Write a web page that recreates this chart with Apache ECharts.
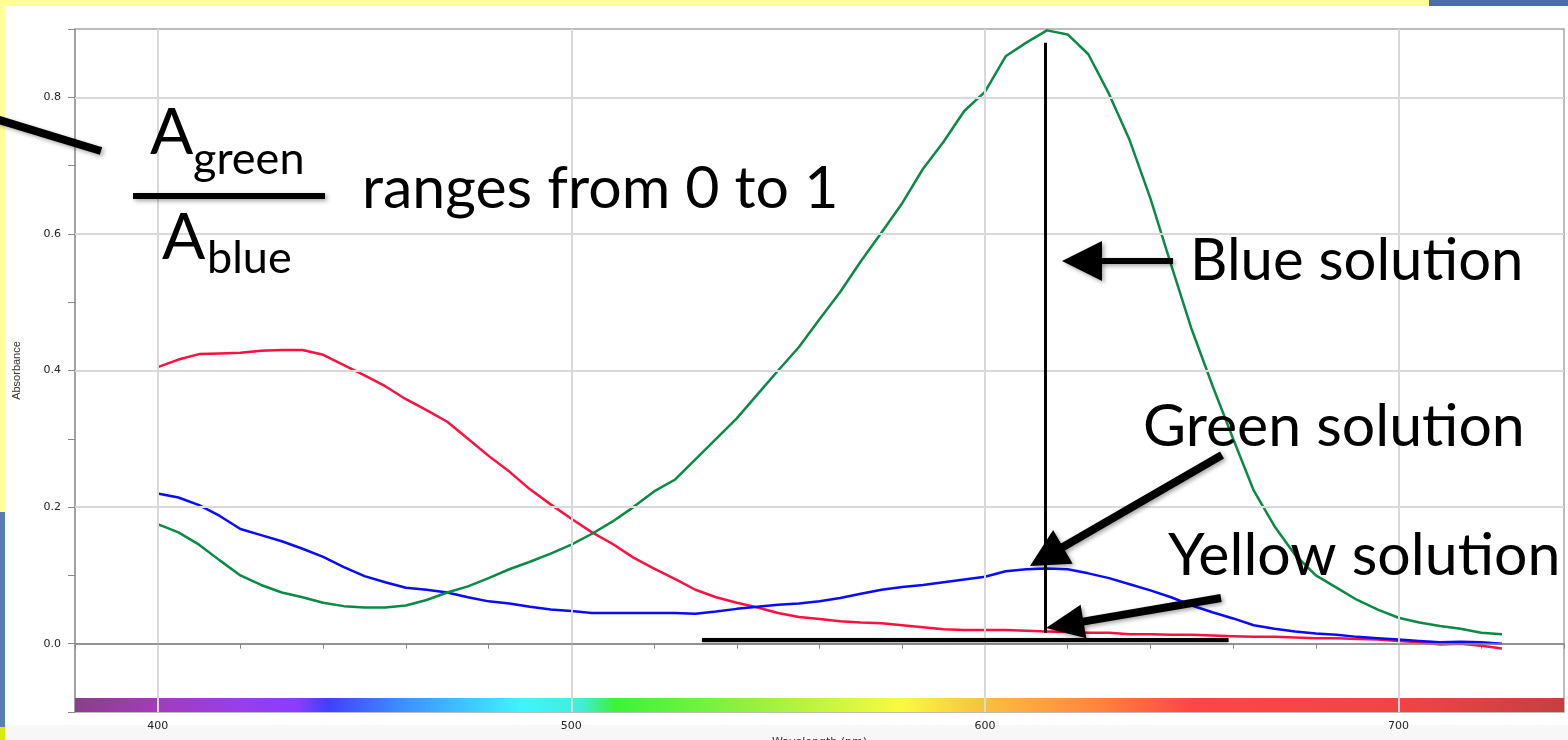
<!DOCTYPE html>
<html>
<head>
<meta charset="utf-8">
<script src="https://cdn.jsdelivr.net/npm/echarts@6/dist/echarts.min.js"></script>
<style>
html,body{margin:0;padding:0;background:#fff;}
#chart{width:1568px;height:740px;}
</style>
</head>
<body>
<div id="chart"></div>
<script>
// ---- data ----
const wavelengths = [400,405,410,415,420,425,430,435,440,445,450,455,460,465,470,475,480,485,490,495,
  500,505,510,515,520,525,530,535,540,545,550,555,560,565,570,575,580,585,590,595,
  600,605,610,615,620,625,630,635,640,645,650,655,660,665,670,675,680,685,690,695,
  700,705,710,715,720,725];
const yellowSolution = [0.405,0.416,0.424,0.425,0.426,0.429,0.430,0.430,0.423,0.408,0.393,0.377,0.358,0.342,0.325,0.300,0.275,0.252,0.226,0.204,
  0.183,0.163,0.146,0.126,0.110,0.095,0.079,0.068,0.060,0.053,0.045,0.039,0.036,0.033,0.031,0.030,0.027,0.024,0.021,0.020,
  0.020,0.020,0.019,0.018,0.017,0.016,0.016,0.014,0.014,0.013,0.013,0.012,0.011,0.010,0.010,0.009,0.008,0.008,0.007,0.006,
  0.004,0.002,-0.001,0.000,-0.003,-0.007];
const greenSolution = [0.220,0.214,0.203,0.187,0.168,0.159,0.150,0.139,0.127,0.112,0.099,0.090,0.082,0.079,0.075,0.068,0.062,0.059,0.054,0.050,
  0.048,0.045,0.045,0.045,0.045,0.045,0.044,0.047,0.051,0.054,0.057,0.059,0.062,0.067,0.073,0.079,0.083,0.086,0.090,0.094,
  0.098,0.106,0.109,0.110,0.109,0.103,0.096,0.087,0.078,0.068,0.056,0.046,0.037,0.027,0.022,0.018,0.015,0.013,0.010,0.008,
  0.006,0.004,0.002,0.003,0.002,0.000];
const blueSolution = [0.175,0.163,0.145,0.122,0.100,0.086,0.075,0.068,0.060,0.055,0.053,0.053,0.056,0.064,0.075,0.084,0.096,0.109,0.120,0.132,
  0.145,0.161,0.179,0.200,0.223,0.240,0.270,0.300,0.330,0.365,0.400,0.434,0.475,0.515,0.560,0.602,0.645,0.695,0.735,0.780,
  0.808,0.860,0.880,0.898,0.892,0.863,0.805,0.737,0.652,0.555,0.460,0.378,0.300,0.224,0.172,0.130,0.100,0.082,0.064,0.050,
  0.038,0.031,0.026,0.022,0.016,0.014];
const xGridValues = [400,500,600,700];
const yGridValues = [0.2,0.4,0.6,0.8];
const xTitle = 'Wavelength (nm)';
const yTitle = 'Absorbance';
// annotation anchors in data units
const markWavelength = 614.6;
const markTop = 0.88, markBottom = 0.016;
const baseLine = {from:531.6, to:658.9, value:0.0064};

const chart = echarts.init(document.getElementById('chart'));

const pair = arr => wavelengths.map((w,i)=>[w,arr[i]]);

const spectrum = new echarts.graphic.LinearGradient(0,0,1,0,[
  {offset:0.00,color:'#8a3f8a'},{offset:0.055,color:'#a23db8'},{offset:0.11,color:'#993ee8'},
  {offset:0.15,color:'#8a3cff'},{offset:0.17,color:'#4040ff'},{offset:0.22,color:'#3f8fff'},
  {offset:0.30,color:'#3ff4ff'},{offset:0.34,color:'#40eed8'},{offset:0.362,color:'#3cf23c'},
  {offset:0.45,color:'#90f040'},{offset:0.555,color:'#fafa40'},{offset:0.61,color:'#f8c040'},
  {offset:0.68,color:'#ff8a40'},{offset:0.75,color:'#ff4545'},{offset:0.89,color:'#f24444'},
  {offset:1.00,color:'#c44040'}
]);

const shadow = {shadowColor:'rgba(0,0,0,0.35)',shadowBlur:4,shadowOffsetX:2,shadowOffsetY:2};

function arrow(tail, tip, headLen, headW, width){
  const dx = tip[0]-tail[0], dy = tip[1]-tail[1];
  const L = Math.sqrt(dx*dx+dy*dy), ux = dx/L, uy = dy/L;
  const bx = tip[0]-ux*headLen, by = tip[1]-uy*headLen;
  const px = -uy, py = ux;
  return [
    {type:'line',z:100,shape:{x1:tail[0],y1:tail[1],x2:bx+ux*2,y2:by+uy*2},style:Object.assign({stroke:'#000',lineWidth:width},shadow)},
    {type:'polygon',z:100,shape:{points:[[tip[0],tip[1]],[bx+px*headW/2,by+py*headW/2],[bx-px*headW/2,by-py*headW/2]]},style:Object.assign({fill:'#000'},shadow)}
  ];
}

function txt(text, x, y, size){
  return {type:'text',z:100,style:{text:text,x:x,y:y,font:size+'px Lato',fill:'#000',textAlign:'left',textVerticalAlign:'middle',verticalAlign:'middle'}};
}

const graphics = [
  {type:'rect',z:-100,shape:{x:0,y:0,width:1429,height:6},style:{fill:'#ffff99'}},
  {type:'rect',z:-100,shape:{x:1429,y:0,width:139,height:6},style:{fill:'#4b6ea8'}},
  {type:'rect',z:-100,shape:{x:0,y:0,width:5,height:512},style:{fill:'#ffff99'}},
  {type:'rect',z:-100,shape:{x:0,y:512,width:5,height:215},style:{fill:'#5a7db8'}},
  {type:'rect',z:-100,shape:{x:5,y:725,width:1563,height:15},style:{fill:'#f7f7f7'}},
  {type:'rect',z:-100,shape:{x:0,y:727,width:5,height:13},style:{fill:'#d4f000'}},
  // left diagonal stroke
  {type:'line',z:100,shape:{x1:-4,y1:119,x2:101,y2:151},style:Object.assign({stroke:'#000',lineWidth:8},shadow)},
  // fraction
  txt('A',150,133,64),
  txt('green',193,159,45),
  {type:'rect',z:100,shape:{x:133,y:193,width:192,height:6},style:Object.assign({fill:'#000'},shadow)},
  txt('A',162,238,64),
  txt('blue',207,258,45),
  txt('ranges from 0 to 1',362,189,59),
  txt('Blue solution',1190,261,58),
  txt('Green solution',1143,427,59),
  txt('Yellow solution',1168,556,59)
].concat(
  arrow([1173,261],[1062,261],40,40,6),
  arrow([1222,455],[1030,566],38,39,8),
  arrow([1221,598],[1046,628],38,34,8)
);

const option = {
  animation:false,
  backgroundColor:'#ffffff',
  grid:{left:75,top:29,right:4,bottom:28,show:true,borderColor:'#a6a6a6',borderWidth:1.5,backgroundColor:'transparent',
    outerBoundsMode:'none',containLabel:false},
  xAxis:{
    type:'value',min:380,max:740,interval:20,
    name:xTitle,nameLocation:'middle',nameGap:23,
    nameTextStyle:{fontFamily:'DejaVu Sans',fontSize:11,color:'#333'},
    axisLine:{show:true,lineStyle:{color:'#999',width:1.5}},
    axisTick:{show:true,length:5,lineStyle:{color:'#888'}},
    axisLabel:{margin:9,fontFamily:'DejaVu Sans',fontSize:11,color:'#222',
      formatter:v=> (v%100===0 ? String(v) : '')},
    splitLine:{show:false}
  },
  yAxis:{
    type:'value',min:-0.1,max:0.9,interval:0.1,
    name:yTitle,nameLocation:'middle',nameGap:53,nameRotate:90,
    nameTextStyle:{fontFamily:'Liberation Sans',fontSize:11,color:'#333'},
    axisLine:{show:true,lineStyle:{color:'#999',width:1.5}},
    axisTick:{show:true,length:7,lineStyle:{color:'#888'}},
    axisLabel:{margin:14,fontFamily:'DejaVu Sans',fontSize:11,color:'#222',
      formatter:v=>{const k=Math.round(v*10);return (k%2===0)?(k/10).toFixed(1):'';}},
    splitLine:{show:false}
  },
  series:[
    {type:'line',data:[],z:0,silent:true,
      markArea:{silent:true,itemStyle:{color:spectrum,opacity:1},
        data:[[{coord:[380,-0.1]},{coord:[740,-0.0795]}]]}},
    {type:'line',data:[],z:1,silent:true,
      markLine:{silent:true,symbol:['none','none'],label:{show:false},
        data:[].concat(
          xGridValues.map(v=>({xAxis:v,lineStyle:{color:'#d9d9d9',width:2,type:'solid'}})),
          yGridValues.map(v=>({yAxis:v,lineStyle:{color:'#d9d9d9',width:2,type:'solid'}})),
          [{yAxis:0,lineStyle:{color:'#8a8a8a',width:1.5,type:'solid'}}]
        )}},
    {name:'Yellow solution',type:'line',data:pair(yellowSolution),showSymbol:false,z:3,
      lineStyle:{color:'#ff1040',width:2.5},itemStyle:{color:'#ff1040'}},
    {name:'Green solution',type:'line',data:pair(greenSolution),showSymbol:false,z:3,
      lineStyle:{color:'#0a0aff',width:2.5},itemStyle:{color:'#0a0aff'}},
    {name:'Blue solution',type:'line',data:pair(blueSolution),showSymbol:false,z:3,
      lineStyle:{color:'#0a8a46',width:2.5},itemStyle:{color:'#0a8a46'},
      markLine:{silent:true,symbol:['none','none'],label:{show:false},
        data:[
          [{coord:[markWavelength,markTop],lineStyle:{color:'#000',width:3,type:'solid'}},{coord:[markWavelength,markBottom]}],
          [{coord:[baseLine.from,baseLine.value],lineStyle:{color:'#000',width:4,type:'solid',shadowColor:'rgba(0,0,0,0.35)',shadowBlur:3,shadowOffsetY:1}},{coord:[baseLine.to,baseLine.value]}]
        ]}}
  ],
  graphic:graphics
};
chart.setOption(option);
</script>
</body>
</html>
